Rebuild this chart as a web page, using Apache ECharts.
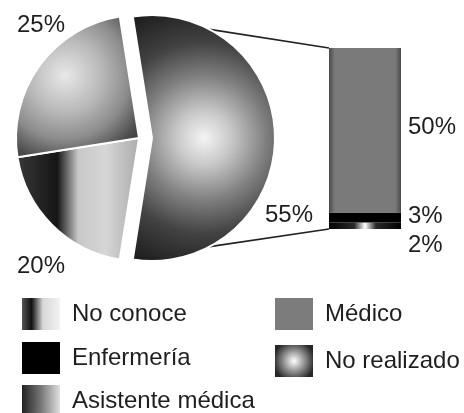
<!DOCTYPE html>
<html>
<head>
<meta charset="utf-8">
<script src="https://cdn.jsdelivr.net/npm/echarts@6.0.0/dist/echarts.min.js"></script>
<style>
html,body{margin:0;padding:0;background:#fff;}
#c{width:464px;height:413px;}
</style>
</head>
<body>
<div id="c"></div>
<script>
// ---- data ----
var pieCategories = ['Otros', 'No conoce', 'Asistente médica'];
var pieValues = [55, 20, 25];
var barCategories = ['No realizado', 'Enfermería', 'Médico'];
var barValues = [2, 3, 50];
var legendLeftItems = ['No conoce', 'Enfermería', 'Asistente médica'];
var legendRightItems = ['Médico', 'No realizado'];

var FONT = '"Liberation Sans", Arial, Helvetica, sans-serif';
var TXT = '#1e1e1e';

var PIE_CX = 139, PIE_CY = 138, PIE_R = 123, PIE_OFF = 13;

var sliceColors = {
  'Otros': {type:'radial', x:0.5, y:0.5, r:0.95, colorStops:[
    {offset:0, color:'#f4f4f4'}, {offset:0.2, color:'#c8c8c8'},
    {offset:0.45, color:'#808080'}, {offset:0.7, color:'#424242'},
    {offset:1, color:'#1e1e1e'}]},
  'No conoce': {type:'linear', x:0, y:0, x2:1, y2:0, colorStops:[
    {offset:0, color:'#383838'}, {offset:0.33, color:'#161616'},
    {offset:0.5, color:'#c8c8c8'}, {offset:0.72, color:'#d6d6d6'},
    {offset:1, color:'#ababab'}]},
  'Asistente médica': {type:'radial', x:0.4, y:0.42, r:0.85, colorStops:[
    {offset:0, color:'#e8e8e8'}, {offset:0.35, color:'#b8b8b8'},
    {offset:0.6, color:'#8c8c8c'}, {offset:0.82, color:'#4c4c4c'},
    {offset:1, color:'#333333'}]}
};
var barColors = {
  'Médico': {type:'linear', x:0, y:0, x2:1, y2:0, colorStops:[
    {offset:0, color:'#4a4a4a'}, {offset:0.08, color:'#7a7a7a'},
    {offset:0.92, color:'#7a7a7a'}, {offset:1, color:'#4a4a4a'}]},
  'Enfermería': '#000000',
  'No realizado': {type:'linear', x:0, y:0, x2:1, y2:0, colorStops:[
    {offset:0, color:'#000'}, {offset:0.35, color:'#2a2a2a'},
    {offset:0.5, color:'#ffffff'}, {offset:0.65, color:'#2a2a2a'},
    {offset:1, color:'#000'}]}
};
var legendIcon = {
  'No conoce': {type:'linear', x:0, y:0, x2:1, y2:0, colorStops:[
    {offset:0, color:'#555'}, {offset:0.25, color:'#111'},
    {offset:0.55, color:'#d8d8d8'}, {offset:1, color:'#f2f2f2'}]},
  'Enfermería': '#000',
  'Asistente médica': {type:'linear', x:0, y:0, x2:1, y2:0, colorStops:[
    {offset:0, color:'#222'}, {offset:0.5, color:'#777'}, {offset:1, color:'#e0e0e0'}]},
  'Médico': '#7c7c7c',
  'No realizado': {type:'radial', x:0.5, y:0.5, r:0.65, colorStops:[
    {offset:0, color:'#ffffff'}, {offset:1, color:'#262626'}]}
};

var pieLabelPos = [[289, 215], [41, 266], [41, 25]];
var barLabelOffset = {'Médico':[0,-3], 'Enfermería':[0,-1], 'No realizado':[0,20]};

var chart = echarts.init(document.getElementById('c'), null, {renderer:'canvas'});

function legendFor(names, left, tops) {
  return names.map(function(n, i){
    return {
      left: left, top: tops[i], orient:'vertical', padding: 0,
      itemWidth: 38, itemHeight: 32, icon: 'rect',
      selectedMode: false,
      textStyle: {fontFamily: FONT, fontSize: 24, color: TXT, padding:[0,0,0,7]},
      data: [{name: n, itemStyle: {color: legendIcon[n], borderWidth: 0}}]
    };
  });
}

var legends = legendFor(legendLeftItems, 22, [298, 342, 385])
  .concat(legendFor(legendRightItems, 275, [298, 345]));

var series = [{
  type: 'pie',
  center: [PIE_CX, PIE_CY],
  radius: PIE_R,
  startAngle: 99,
  clockwise: true,
  selectedMode: 'single',
  selectedOffset: PIE_OFF,
  avoidLabelOverlap: false,
  emphasis: {disabled: true},
  label: {show: false},
  labelLine: {show: false},
  data: pieCategories.map(function(n, i){
    return {name: n, value: pieValues[i], selected: i === 0,
      itemStyle: {color: sliceColors[n], borderColor:'#ffffff', borderWidth: 2}};
  })
}];

barCategories.forEach(function(n, i){
  series.push({
    type: 'bar', name: n, stack: 'otros', barWidth: '100%',
    emphasis: {disabled: true},
    itemStyle: {color: barColors[n]},
    label: {show: true, position: 'right', distance: 7, offset: barLabelOffset[n],
      formatter: '{c}%', fontFamily: FONT, fontSize: 24, color: TXT},
    data: [barValues[i]]
  });
});

var pieLabels = pieValues.map(function(v, i){
  return {type:'text', x: pieLabelPos[i][0], y: pieLabelPos[i][1], z: 10,
    style:{text: v + '%', font: '24px ' + FONT, fill: TXT, align:'center', verticalAlign:'middle'}};
});

chart.setOption({
  animation: false,
  backgroundColor: '#ffffff',
  legend: legends,
  grid: {left: 329, top: 48, width: 72, height: 181},
  xAxis: {type: 'category', data: ['Otros'], show: false},
  yAxis: {type: 'value', min: 0, max: pieValues[0], show: false},
  series: series
});

// connector lines from the exploded slice to the bar
var total = barValues.reduce(function(a,b){return a+b;}, 0);
var rect = chart.getModel().getComponent('grid', 0).coordinateSystem.getRect();
var yTop = chart.convertToPixel({yAxisIndex: 0}, total);
var yBot = chart.convertToPixel({yAxisIndex: 0}, 0);
var cx = PIE_CX + PIE_OFF, ang = 62 * Math.PI / 180;
var p1 = [cx + PIE_R * Math.cos(ang), PIE_CY - PIE_R * Math.sin(ang)];
var p2 = [cx + PIE_R * Math.cos(ang), PIE_CY + PIE_R * Math.sin(ang)];
chart.setOption({
  graphic: [
    {type:'line', shape:{x1:p1[0], y1:p1[1], x2:rect.x, y2:yTop}, style:{stroke:'#222', lineWidth:1.6}, z: 0},
    {type:'line', shape:{x1:p2[0], y1:p2[1], x2:rect.x, y2:yBot}, style:{stroke:'#222', lineWidth:1.6}, z: 0}
  ].concat(pieLabels)
});
</script>
</body>
</html>
